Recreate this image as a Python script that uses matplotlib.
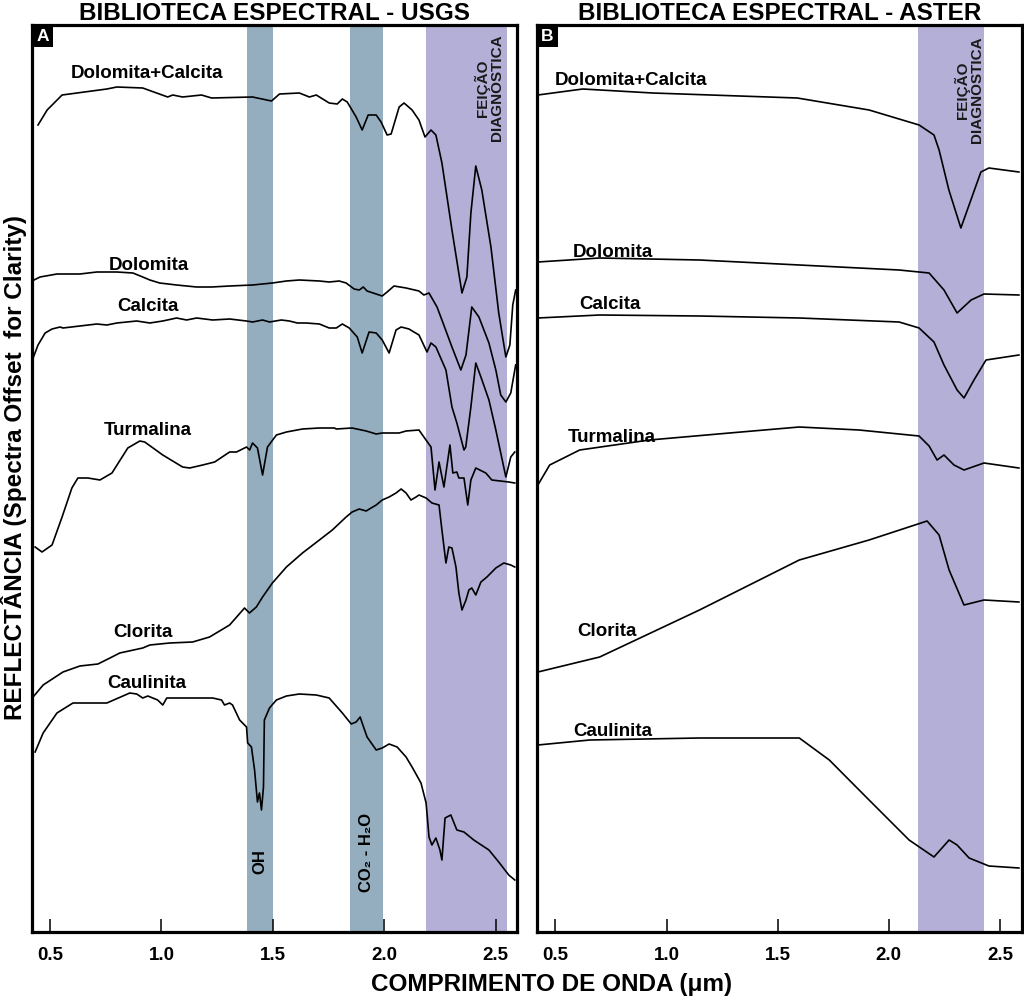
import matplotlib.pyplot as plt
from matplotlib.patches import Rectangle

plt.rcParams['font.family'] = ['Liberation Sans', 'DejaVu Sans']
plt.rcParams['font.weight'] = 'bold'

# ---- USGS spectra (wavelength in um, offset reflectance in arbitrary units)
usgs_dolcal_wl = [0.446, 0.487, 0.554, 0.755, 0.800, 0.916, 1.028, 1.051, 1.095, 1.180, 1.225, 1.409,
                  1.494, 1.530, 1.619, 1.664, 1.695, 1.753, 1.789, 1.812, 1.834, 1.874, 1.901, 1.928,
                  1.964, 1.986, 2.013, 2.031, 2.067, 2.089, 2.125, 2.156, 2.183, 2.210, 2.232, 2.259,
                  2.304, 2.349, 2.371, 2.389, 2.411, 2.438, 2.479, 2.514, 2.546, 2.564, 2.577, 2.590]
usgs_dolcal_r = [80.7, 82.2, 83.7, 84.3, 84.5, 84.4, 83.5, 83.7, 83.5, 83.7, 83.4, 83.5,
                 83.1, 83.8, 83.9, 83.5, 83.7, 82.9, 82.8, 83.3, 83.0, 81.5, 80.2, 81.7,
                 81.7, 81.0, 79.7, 79.8, 82.5, 82.9, 82.2, 81.2, 79.5, 80.2, 79.7, 76.9,
                 70.2, 63.9, 65.5, 71.9, 76.6, 74.2, 68.5, 61.9, 57.5, 58.7, 62.7, 64.2]

usgs_dol_wl = [0.428, 0.455, 0.531, 0.634, 0.710, 0.800, 0.872, 0.916, 0.948, 0.992, 1.068, 1.158,
               1.225, 1.306, 1.409, 1.498, 1.561, 1.619, 1.709, 1.753, 1.798, 1.829, 1.865, 1.888,
               1.906, 1.923, 1.991, 2.013, 2.044, 2.098, 2.156, 2.178, 2.201, 2.237, 2.259, 2.304,
               2.344, 2.367, 2.393, 2.425, 2.470, 2.501, 2.523, 2.546, 2.568, 2.590]
usgs_dol_r = [65.2, 65.5, 65.8, 65.8, 66.0, 66.0, 65.9, 65.5, 65.2, 64.9, 64.7, 64.5,
              64.5, 64.6, 64.7, 64.9, 65.1, 65.2, 65.1, 65.0, 65.1, 64.9, 64.3, 64.2,
              64.5, 64.1, 63.6, 64.0, 64.6, 64.4, 64.1, 63.7, 63.9, 62.5, 61.2, 58.5,
              56.2, 57.7, 62.5, 61.5, 58.9, 56.2, 53.7, 53.0, 53.9, 56.7]

usgs_cal_wl = [0.424, 0.446, 0.478, 0.509, 0.545, 0.558, 0.634, 0.710, 0.755, 0.800, 0.889, 0.948,
               1.006, 1.068, 1.113, 1.158, 1.230, 1.306, 1.382, 1.409, 1.454, 1.485, 1.538, 1.574,
               1.610, 1.650, 1.709, 1.753, 1.785, 1.812, 1.843, 1.879, 1.901, 1.932, 1.964, 1.991,
               2.022, 2.053, 2.076, 2.111, 2.156, 2.192, 2.210, 2.232, 2.277, 2.304, 2.326, 2.358,
               2.366, 2.389, 2.411, 2.434, 2.470, 2.501, 2.546, 2.568, 2.586]
usgs_cal_r = [57.4, 58.7, 59.9, 60.3, 60.5, 60.4, 60.6, 60.8, 60.7, 60.9, 61.1, 60.9,
              61.1, 61.4, 61.2, 61.4, 61.2, 61.3, 61.1, 61.0, 61.2, 61.0, 61.2, 61.1,
              60.9, 60.9, 60.8, 60.4, 60.4, 60.8, 60.4, 59.5, 57.9, 60.0, 59.9, 59.2,
              57.9, 60.2, 60.5, 60.3, 59.7, 58.0, 58.9, 58.5, 56.2, 52.5, 50.9, 48.2,
              48.5, 52.5, 56.9, 55.5, 53.2, 50.2, 45.5, 47.5, 48.0]

usgs_tur_wl = [0.433, 0.464, 0.509, 0.554, 0.598, 0.625, 0.670, 0.724, 0.778, 0.849, 0.903, 0.925,
               1.006, 1.095, 1.127, 1.185, 1.239, 1.306, 1.337, 1.382, 1.396, 1.409, 1.431, 1.454,
               1.476, 1.516, 1.561, 1.633, 1.709, 1.776, 1.785, 1.856, 1.919, 1.964, 1.991, 2.067,
               2.098, 2.156, 2.178, 2.210, 2.228, 2.246, 2.268, 2.295, 2.308, 2.326, 2.335, 2.358,
               2.375, 2.389, 2.411, 2.456, 2.483, 2.559, 2.586]
usgs_tur_r = [38.5, 38.0, 38.7, 41.5, 44.4, 45.4, 45.4, 45.2, 45.9, 48.4, 49.1, 49.0,
              47.7, 46.5, 46.4, 46.7, 47.0, 48.0, 48.0, 48.5, 48.2, 48.9, 48.4, 45.7,
              48.5, 49.7, 50.0, 50.3, 50.4, 50.4, 50.3, 50.4, 50.1, 49.8, 49.9, 49.9,
              50.1, 50.2, 49.5, 48.5, 44.2, 47.0, 44.5, 48.7, 45.9, 46.0, 45.4, 45.4,
              42.7, 45.2, 46.4, 45.9, 45.2, 45.0, 44.9]

usgs_clo_wl = [0.424, 0.469, 0.558, 0.634, 0.715, 0.769, 0.813, 0.916, 0.948, 1.037, 1.140, 1.216,
               1.306, 1.373, 1.395, 1.426, 1.454, 1.498, 1.561, 1.633, 1.709, 1.767, 1.829, 1.856,
               1.888, 1.919, 1.941, 1.964, 1.991, 2.022, 2.053, 2.076, 2.098, 2.120, 2.143, 2.156,
               2.188, 2.214, 2.246, 2.259, 2.277, 2.290, 2.304, 2.322, 2.335, 2.349, 2.367, 2.380,
               2.393, 2.411, 2.434, 2.461, 2.501, 2.537, 2.568, 2.586]
usgs_clo_r = [23.5, 24.7, 26.0, 26.6, 26.8, 27.4, 27.9, 28.4, 28.7, 28.9, 29.0, 29.5,
              30.7, 32.4, 31.9, 32.5, 33.5, 34.9, 36.5, 37.9, 39.2, 40.2, 41.5, 42.0,
              42.3, 42.1, 42.4, 42.7, 43.2, 43.5, 43.9, 44.3, 43.9, 43.2, 43.5, 43.7,
              43.4, 42.9, 42.7, 40.2, 36.9, 38.5, 38.4, 36.5, 33.9, 32.2, 33.2, 34.2,
              34.4, 33.7, 35.0, 35.5, 36.4, 36.9, 36.7, 36.5]

usgs_cau_wl = [0.433, 0.469, 0.531, 0.603, 0.755, 0.858, 0.889, 0.916, 0.939, 0.961, 0.983, 1.006,
               1.024, 1.082, 1.230, 1.270, 1.283, 1.306, 1.319, 1.351, 1.382, 1.387, 1.404, 1.418,
               1.431, 1.440, 1.449, 1.458, 1.462, 1.485, 1.516, 1.561, 1.619, 1.695, 1.753, 1.812,
               1.852, 1.874, 1.892, 1.901, 1.923, 1.964, 1.991, 2.022, 2.058, 2.098, 2.125, 2.165,
               2.188, 2.201, 2.214, 2.232, 2.250, 2.259, 2.273, 2.299, 2.326, 2.358, 2.402, 2.470,
               2.514, 2.559, 2.586]
usgs_cau_r = [18.0, 19.9, 21.9, 22.9, 22.9, 23.9, 23.8, 23.4, 23.6, 23.4, 23.2, 22.7,
              23.4, 23.4, 23.4, 23.2, 22.7, 22.9, 22.7, 21.2, 20.5, 18.9, 18.5, 16.2,
              13.0, 13.9, 12.2, 14.5, 21.2, 22.4, 23.2, 23.6, 23.8, 23.7, 23.4, 21.9,
              20.8, 21.0, 21.5, 20.9, 19.5, 18.2, 18.4, 18.8, 18.5, 17.5, 16.5, 14.9,
              12.9, 9.5, 8.7, 9.4, 8.2, 7.2, 11.4, 11.7, 10.2, 10.0, 9.2, 8.2,
              7.0, 5.7, 5.2]

# ---- ASTER spectra (resampled, few points)
aster_dolcal_wl = [0.421, 0.623, 0.937, 1.588, 1.911, 2.136, 2.203, 2.226, 2.270, 2.324, 2.369, 2.414, 2.450, 2.585]
aster_dolcal_r = [83.7, 84.3, 83.9, 83.4, 82.2, 80.7, 79.7, 78.2, 74.2, 70.4, 73.2, 76.0, 76.4, 76.0]
aster_dol_wl = [0.421, 0.699, 1.148, 1.597, 2.046, 2.181, 2.248, 2.307, 2.370, 2.428, 2.585]
aster_dol_r = [67.0, 67.4, 67.2, 66.7, 66.2, 65.9, 64.2, 61.9, 63.2, 63.8, 63.7]
aster_cal_wl = [0.421, 0.699, 1.148, 1.597, 2.046, 2.136, 2.203, 2.248, 2.307, 2.338, 2.383, 2.437, 2.585]
aster_cal_r = [61.4, 61.7, 61.6, 61.4, 61.0, 60.4, 59.0, 56.7, 54.2, 53.4, 55.2, 57.2, 57.7]
aster_tur_wl = [0.421, 0.474, 0.609, 0.923, 1.283, 1.597, 1.866, 2.136, 2.181, 2.217, 2.248, 2.293, 2.338, 2.428, 2.585]
aster_tur_r = [44.7, 46.7, 48.2, 49.2, 49.9, 50.5, 50.2, 49.6, 48.6, 47.2, 47.7, 46.7, 46.2, 46.9, 46.4]
aster_clo_wl = [0.421, 0.699, 1.148, 1.597, 1.911, 2.172, 2.226, 2.271, 2.338, 2.428, 2.585]
aster_clo_r = [26.0, 27.5, 32.2, 37.2, 39.2, 41.1, 39.7, 36.2, 32.7, 33.2, 33.0]
aster_cau_wl = [0.421, 0.654, 1.148, 1.597, 1.732, 1.911, 2.091, 2.203, 2.271, 2.307, 2.361, 2.450, 2.585]
aster_cau_r = [18.7, 19.2, 19.4, 19.4, 17.2, 13.2, 9.2, 7.5, 9.2, 8.7, 7.4, 6.6, 6.4]

minerals = ['Dolomita+Calcita', 'Dolomita', 'Calcita', 'Turmalina', 'Clorita', 'Caulinita']

usgs = [(usgs_dolcal_wl, usgs_dolcal_r), (usgs_dol_wl, usgs_dol_r), (usgs_cal_wl, usgs_cal_r),
        (usgs_tur_wl, usgs_tur_r), (usgs_clo_wl, usgs_clo_r), (usgs_cau_wl, usgs_cau_r)]
aster = [(aster_dolcal_wl, aster_dolcal_r), (aster_dol_wl, aster_dol_r), (aster_cal_wl, aster_cal_r),
         (aster_tur_wl, aster_tur_r), (aster_clo_wl, aster_clo_r), (aster_cau_wl, aster_cau_r)]

# label anchor points (wl, r)
usgs_label_pos = [(0.934, 85.9), (0.943, 66.7), (0.939, 62.6), (0.939, 50.2), (0.916, 30.0), (0.934, 24.8)]
aster_label_pos = [(0.497, 85.2), (0.578, 68.0), (0.609, 62.8), (0.555, 49.5), (0.600, 30.1), (0.578, 20.1)]

# absorption bands (um)
oh_band = (1.385, 1.503)
co2_band = (1.847, 1.995)
usgs_feature = (2.188, 2.549)
aster_feature = (2.13, 2.43)

ticks = [0.5, 1.0, 1.5, 2.0, 2.5]
tick_labels = ['0.5', '1.0', '1.5', '2.0', '2.5']

BAND_COLOR = '#94aebf'
FEAT_COLOR = '#b4afd7'


def style_axis(ax, xlim, letter):
    ax.set_xlim(*xlim)
    ax.set_ylim(0, 90.7)
    ax.set_yticks([])
    ax.set_xticks(ticks)
    ax.set_xticklabels(tick_labels, fontsize=13.5, fontweight='bold')
    ax.tick_params(axis='x', direction='in', length=9.5, width=1.1, pad=11)
    for s in ax.spines.values():
        s.set_linewidth(2.3)
    # black corner box with the panel letter
    ax.add_patch(Rectangle((0, 1 - 22 / 907), 21 / 485, 22 / 907, transform=ax.transAxes,
                           facecolor='black', edgecolor='none', zorder=5, clip_on=False))
    ax.text(10.5 / 485, 1 - 11 / 907, letter, transform=ax.transAxes, color='white',
            fontsize=12.5, fontweight='bold', ha='center', va='center', zorder=6)


def feature_text(ax, x, y):
    ax.text(x, y, 'FEIÇÃO\nDIAGNOSTICA', rotation=90, fontsize=11, fontweight='bold',
            ha='center', va='center', multialignment='center', linespacing=1.0, color='#1a1a1a')


def plot_panel(ax, spectra, label_pos, ha):
    for (wl, r), name, (lx, ly) in zip(spectra, minerals, label_pos):
        ax.plot(wl, r, color='black', lw=1.2, zorder=3)
        ax.text(lx, ly, name, fontsize=13.5, fontweight='bold', ha=ha, va='center', zorder=4)


fig = plt.figure(figsize=(10.24, 9.98), dpi=100)
axA = fig.add_axes([32 / 1024, 1 - 932 / 998, 485 / 1024, 907 / 998])
axB = fig.add_axes([537 / 1024, 1 - 932 / 998, 485 / 1024, 907 / 998])

# panel A - USGS
axA.axvspan(*oh_band, color=BAND_COLOR, lw=0, zorder=1)
axA.axvspan(*co2_band, color=BAND_COLOR, lw=0, zorder=1)
axA.axvspan(*usgs_feature, color=FEAT_COLOR, lw=0, zorder=1)
plot_panel(axA, usgs, usgs_label_pos, 'center')
axA.text(1.444, 7.0, 'OH', rotation=90, fontsize=12, fontweight='bold', ha='center', va='center')
axA.text(1.921, 8.0, 'CO₂ - H₂O', rotation=90, fontsize=12, fontweight='bold', ha='center', va='center')
feature_text(axA, 2.47, 84.4)
style_axis(axA, (0.419, 2.596), 'A')
axA.set_title('BIBLIOTECA ESPECTRAL - USGS', fontsize=17.5, fontweight='bold', pad=3)

# panel B - ASTER
axB.axvspan(*aster_feature, color=FEAT_COLOR, lw=0, zorder=1)
plot_panel(axB, aster, aster_label_pos, 'left')
feature_text(axB, 2.36, 84.2)
style_axis(axB, (0.417, 2.599), 'B')
axB.set_title('BIBLIOTECA ESPECTRAL - ASTER', fontsize=17.5, fontweight='bold', pad=3)

fig.text(552 / 1024, 1 - 984 / 998, 'COMPRIMENTO DE ONDA (μm)', fontsize=17.5, fontweight='bold',
         ha='center', va='center')
fig.text(14 / 1024, 1 - 467 / 998, 'REFLECTÂNCIA (Spectra Offset  for Clarity)', fontsize=17.5,
         fontweight='bold', rotation=90, ha='center', va='center')

fig.savefig('out.png', dpi=100)
